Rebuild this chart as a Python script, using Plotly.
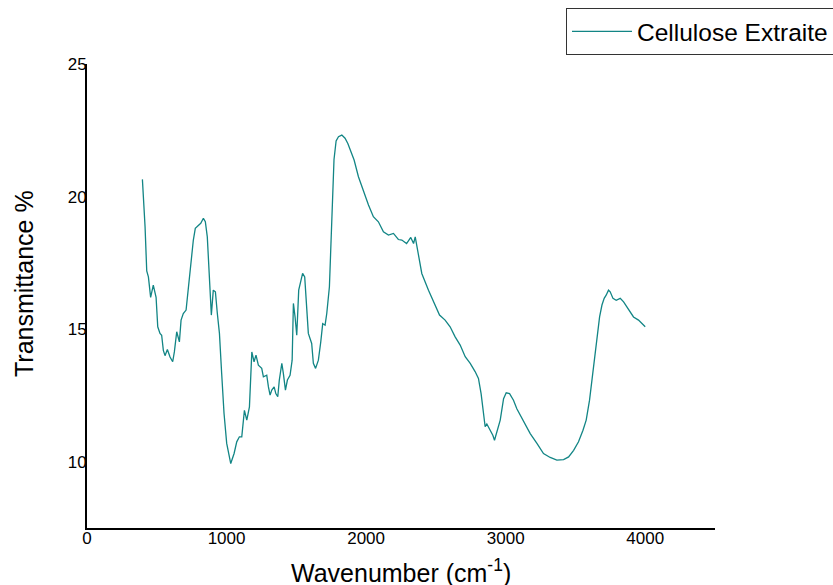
import plotly.graph_objects as go

wavenumber = [397, 416, 428, 440, 456, 475, 495, 507, 523, 535, 547, 559, 576, 595, 614, 626, 643, 662, 674, 690,
              710, 726, 745, 762, 776, 798, 815, 834, 848, 862, 877, 891, 905, 920, 934, 949, 965, 982, 1001, 1030,
              1054, 1073, 1092, 1109, 1128, 1145, 1164, 1181, 1197, 1211, 1228, 1252, 1264, 1288, 1300, 1312, 1324,
              1341, 1353, 1367, 1378, 1396, 1407, 1422, 1436, 1455, 1470, 1479, 1491, 1503, 1517, 1531, 1545, 1560,
              1574, 1586, 1610, 1622, 1638, 1658, 1675, 1689, 1706, 1718, 1737, 1747, 1761, 1770, 1785, 1802, 1826,
              1849, 1869, 1885, 1914, 1945, 1981, 2017, 2052, 2088, 2124, 2160, 2196, 2231, 2256, 2290, 2320, 2340,
              2352, 2364, 2380, 2399, 2447, 2483, 2526, 2566, 2602, 2638, 2674, 2710, 2746, 2781, 2805, 2824, 2841,
              2853, 2865, 2889, 2908, 2920, 2937, 2961, 2985, 3004, 3028, 3056, 3080, 3128, 3176, 3224, 3271, 3319,
              3367, 3415, 3451, 3487, 3522, 3554, 3577, 3601, 3626, 3649, 3673, 3690, 3706, 3720, 3737, 3749, 3769,
              3792, 3821, 3845, 3869, 3892, 3916, 3952, 4000]
transmittance = [20.65, 18.86, 17.2, 16.97, 16.2, 16.66, 16.2, 15.09, 14.84, 14.77, 14.2, 14.0, 14.23, 13.95, 13.77,
                 14.14, 14.9, 14.52, 15.34, 15.59, 15.72, 16.6, 17.6, 18.36, 18.8, 18.92, 18.99, 19.18, 19.05, 18.48,
                 16.97, 15.53, 16.47, 16.41, 15.59, 14.84, 13.33, 11.82, 10.69, 9.93, 10.31, 10.75, 10.94, 10.94,
                 11.94, 11.57, 12.07, 14.14, 13.77, 14.02, 13.64, 13.52, 13.2, 13.26, 12.82, 12.51, 12.7, 12.82,
                 12.57, 12.45, 13.08, 13.71, 13.33, 12.7, 13.08, 13.26, 13.83, 15.97, 15.46, 14.77, 16.47, 16.85,
                 17.1, 16.97, 15.59, 14.84, 14.46, 13.71, 13.52, 13.83, 14.52, 15.21, 15.15, 15.59, 16.6, 18.23,
                 20.37, 21.4, 22.1, 22.26, 22.32, 22.2, 22.0, 21.75, 21.38, 20.75, 20.18, 19.68, 19.24, 19.05, 18.67,
                 18.55, 18.61, 18.38, 18.36, 18.23, 18.46, 18.23, 18.48, 18.11, 17.55, 17.1, 16.47, 16.03, 15.53,
                 15.34, 15.09, 14.71, 14.4, 13.96, 13.71, 13.4, 13.14, 12.57, 11.82, 11.32, 11.42, 11.19, 11.0,
                 10.81, 11.13, 11.57, 12.38, 12.6, 12.57, 12.32, 12.0, 11.5, 11.06, 10.69, 10.31, 10.16, 10.06,
                 10.08, 10.18, 10.43, 10.75, 11.19, 11.57, 12.32, 13.45, 14.46, 15.46, 15.91, 16.16, 16.28, 16.47,
                 16.41, 16.16, 16.09, 16.16, 16.03, 15.84, 15.65, 15.46, 15.34, 15.09]

x_ticks = [0, 1000, 2000, 3000, 4000]
y_ticks = [10, 15, 20, 25]

FONT = "Liberation Sans, Arial, sans-serif"

fig = go.Figure()
fig.add_trace(go.Scatter(x=wavenumber, y=transmittance, mode="lines", name="Cellulose Extraite",
                         line=dict(color="#128585", width=1.3)))

fig.update_layout(
    width=833, height=585,
    margin=dict(l=87, r=118, t=64, b=57, autoexpand=False),
    paper_bgcolor="white", plot_bgcolor="white",
    font=dict(family=FONT, color="black"),
    showlegend=True,
    legend=dict(x=(566 - 87) / 628, y=(528 - 8) / 464, xanchor="left", yanchor="top",
                bordercolor="#333333", borderwidth=1, bgcolor="white",
                font=dict(size=24.5, family=FONT), itemwidth=60,
                tracegroupgap=0),
    xaxis=dict(range=[0, 4500], tickvals=x_ticks, ticktext=[str(v) for v in x_ticks],
               showgrid=False, zeroline=False, showline=True, linecolor="black", linewidth=2,
               ticks="", tickfont=dict(size=17, family=FONT), ticklabelstandoff=-6),
    yaxis=dict(range=[7.5, 25], tickvals=y_ticks, ticktext=[str(v) for v in y_ticks],
               showgrid=False, zeroline=False, showline=True, linecolor="black", linewidth=2,
               ticks="", tickfont=dict(size=17, family=FONT), ticklabelstandoff=-5),
    annotations=[
        dict(text="Wavenumber (cm<sup>-1</sup>)", xref="paper", yref="paper",
             x=(401 - 87) / 628, y=-(571 - 528) / 464, xanchor="center", yanchor="middle",
             showarrow=False, font=dict(size=25, family=FONT)),
        dict(text="Transmittance %", xref="paper", yref="paper", textangle=-90,
             x=-(87 - 24) / 628, y=(528 - 284) / 464, xanchor="center", yanchor="middle",
             showarrow=False, font=dict(size=25, family=FONT)),
    ],
)

fig.write_html("out.html")
